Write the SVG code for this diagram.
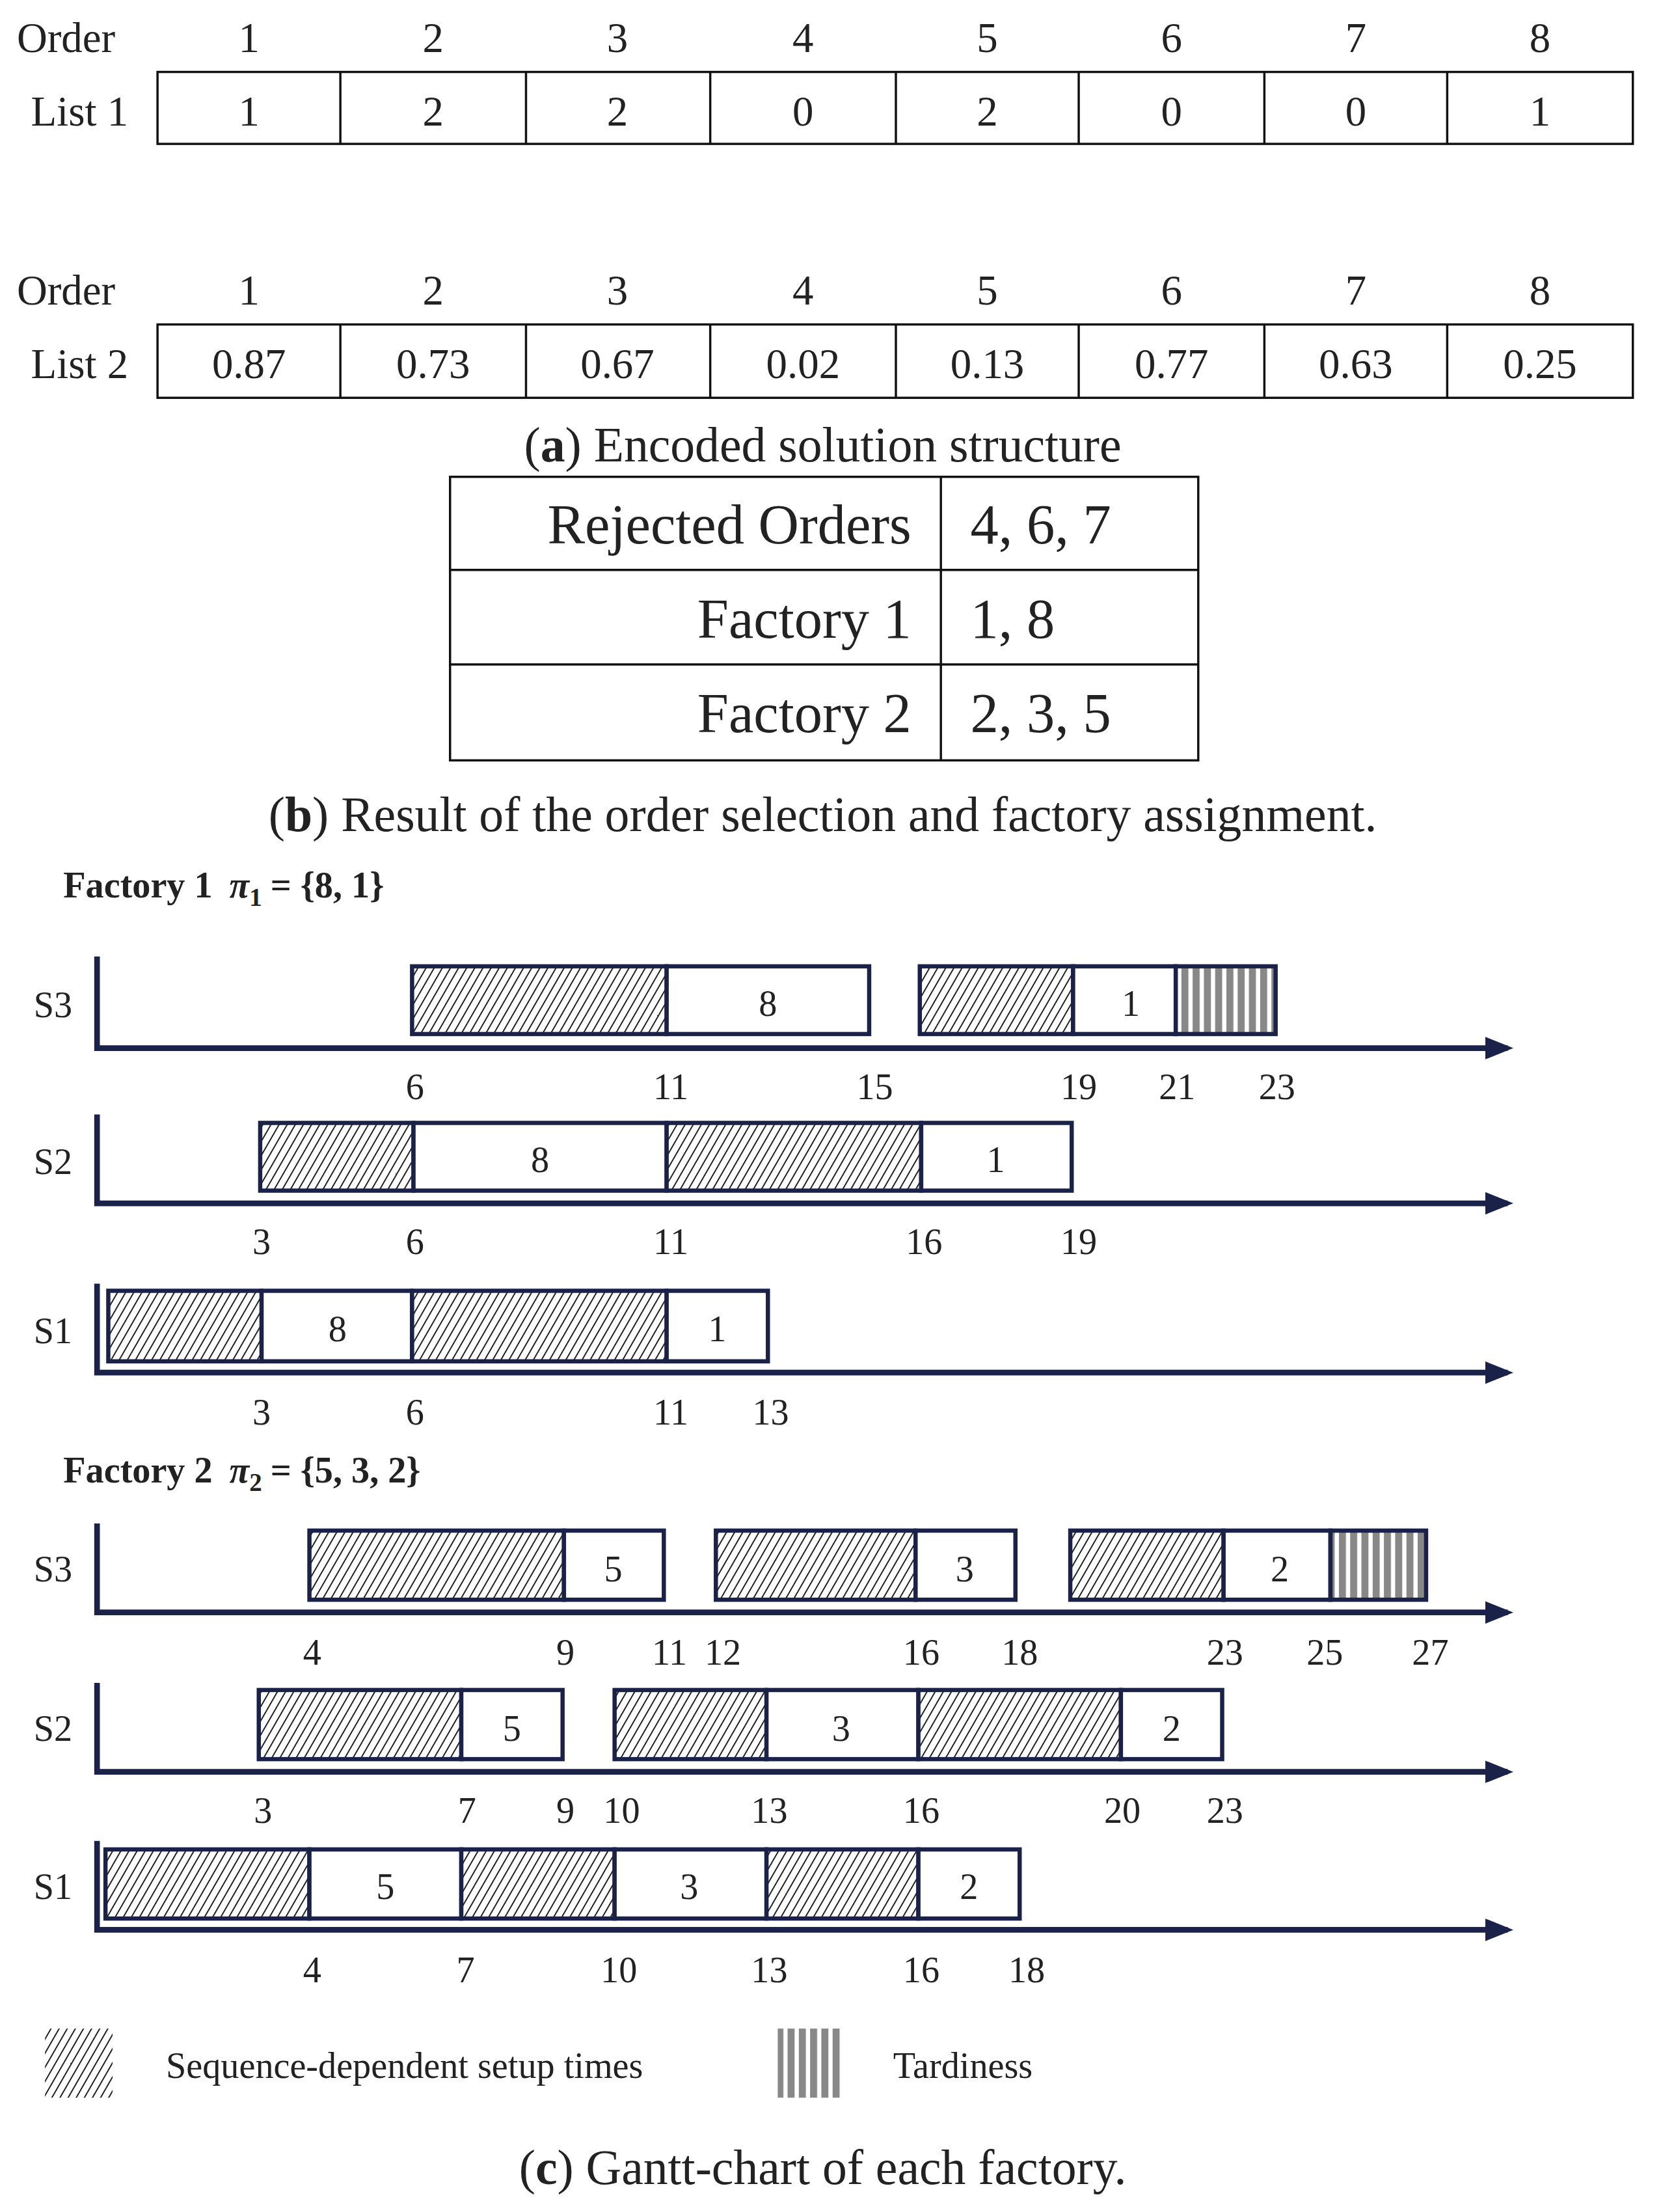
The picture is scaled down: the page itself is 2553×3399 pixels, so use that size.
<svg xmlns="http://www.w3.org/2000/svg" width="2553" height="3399" viewBox="0 0 2553 3399">
<style>
text{font-family:"Liberation Serif","DejaVu Serif",serif;fill:#222}
.t{font-size:30px;text-anchor:middle}
.lab{font-size:30px}
.cap{font-size:35px;text-anchor:middle}
.big{font-size:40px}
.g{font-size:26px;text-anchor:middle}
.sl{font-size:26px}
.cell{fill:none;stroke:#111;stroke-width:1.6}
.box{fill:#fff;stroke:#1a2249;stroke-width:3}
.hb{fill:url(#hatch);stroke:#1a2249;stroke-width:3}
.tb{fill:url(#tard);stroke:#1a2249;stroke-width:3}
.ax{stroke:#1a2249;stroke-width:4;fill:none}
.hd{font-size:26px;font-weight:bold}
</style>
<defs>
<pattern id="hatch" patternUnits="userSpaceOnUse" width="5" height="5" patternTransform="rotate(30)">
<rect width="5" height="5" fill="#fff"/><line x1="0" y1="0" x2="0" y2="5" stroke="#111" stroke-width="1.7"/>
</pattern>
<pattern id="tard" patternUnits="userSpaceOnUse" width="8" height="8">
<rect width="8" height="8" fill="#fff"/><rect width="5" height="8" fill="#888"/>
</pattern>
<marker id="arr" markerWidth="5" markerHeight="4" refX="4" refY="2" orient="auto" markerUnits="strokeWidth"><path d="M0,0 L5,2 L0,4 z" fill="#1a2249"/></marker>
</defs>
<g transform="scale(2.1617 2.1677)">
<g id="list1">
<text class="lab" x="12" y="37">Order</text>
<text class="lab" x="22" y="89">List 1</text>
<g class="t"><text x="177" y="37">1</text><text x="308" y="37">2</text><text x="439" y="37">3</text><text x="571" y="37">4</text><text x="702" y="37">5</text><text x="833" y="37">6</text><text x="964" y="37">7</text><text x="1095" y="37">8</text>
<text x="177" y="89">1</text><text x="308" y="89">2</text><text x="439" y="89">2</text><text x="571" y="89">0</text><text x="702" y="89">2</text><text x="833" y="89">0</text><text x="964" y="89">0</text><text x="1095" y="89">1</text></g>
<rect class="cell" x="112" y="51" width="1049" height="51"/>
<path class="cell" d="M242,51V102M374,51V102M505,51V102M637,51V102M767,51V102M899,51V102M1029,51V102"/>
</g>
<g id="list2">
<text class="lab" x="12" y="216">Order</text>
<text class="lab" x="22" y="268">List 2</text>
<g class="t"><text x="177" y="216">1</text><text x="308" y="216">2</text><text x="439" y="216">3</text><text x="571" y="216">4</text><text x="702" y="216">5</text><text x="833" y="216">6</text><text x="964" y="216">7</text><text x="1095" y="216">8</text>
<text x="177" y="268">0.87</text><text x="308" y="268">0.73</text><text x="439" y="268">0.67</text><text x="571" y="268">0.02</text><text x="702" y="268">0.13</text><text x="833" y="268">0.77</text><text x="964" y="268">0.63</text><text x="1095" y="268">0.25</text></g>
<rect class="cell" x="112" y="230" width="1049" height="52"/>
<path class="cell" d="M242,230V282M374,230V282M505,230V282M637,230V282M767,230V282M899,230V282M1029,230V282"/>
</g>
<text class="cap" x="585" y="327">(<tspan font-weight="bold">a</tspan>) Encoded solution structure</text>
<g id="tableB">
<rect class="cell" x="320" y="338" width="532" height="201"/>
<path class="cell" d="M320,404H852M320,471H852M669,338V539"/>
<g class="big" text-anchor="end"><text x="648" y="385">Rejected Orders</text><text x="648" y="452">Factory 1</text><text x="648" y="519">Factory 2</text></g>
<g class="big"><text x="690" y="385">4, 6, 7</text><text x="690" y="452">1, 8</text><text x="690" y="519">2, 3, 5</text></g>
</g>
<text class="cap" x="585" y="589">(<tspan font-weight="bold">b</tspan>) Result of the order selection and factory assignment.</text>
<text class="hd" x="45" y="636">Factory 1<tspan dx="12" font-style="italic">π</tspan><tspan font-size="18" dy="6">1</tspan><tspan dy="-6" dx="6">= {8, 1}</tspan></text>
<g id="connectors">
<path class="ax" d="M69,678V745M69,743H1072" marker-end="url(#arr)"/>
<path class="ax" d="M69,790V855M69,853H1072" marker-end="url(#arr)"/>
<path class="ax" d="M69,910V975M69,973H1072" marker-end="url(#arr)"/>
<path class="ax" d="M69,1080V1145M69,1143H1072" marker-end="url(#arr)"/>
<path class="ax" d="M69,1193V1258M69,1256H1072" marker-end="url(#arr)"/>
<path class="ax" d="M69,1305V1370M69,1368H1072" marker-end="url(#arr)"/>
</g>
<g id="f1s3">
<text class="sl" x="24" y="721">S3</text>
<rect class="hb" x="293" y="685" width="181" height="48"/><rect class="box" x="474" y="685" width="144" height="48"/><text class="g" x="546" y="720">8</text>
<rect class="hb" x="654" y="685" width="109" height="48"/><rect class="box" x="763" y="685" width="73" height="48"/><rect class="tb" x="836" y="685" width="71" height="48"/><text class="g" x="804" y="720">1</text>
<g class="g"><text x="295" y="779">6</text><text x="477" y="779">11</text><text x="622" y="779">15</text><text x="767" y="779">19</text><text x="837" y="779">21</text><text x="908" y="779">23</text></g>
</g>
<g id="f1s2">
<text class="sl" x="24" y="832">S2</text>
<rect class="hb" x="185" y="796" width="109" height="48"/><rect class="box" x="294" y="796" width="180" height="48"/><text class="g" x="384" y="831">8</text>
<rect class="hb" x="474" y="796" width="181" height="48"/><rect class="box" x="655" y="796" width="107" height="48"/><text class="g" x="708" y="831">1</text>
<g class="g"><text x="186" y="889">3</text><text x="295" y="889">6</text><text x="477" y="889">11</text><text x="657" y="889">16</text><text x="767" y="889">19</text></g>
</g>
<g id="f1s1">
<text class="sl" x="24" y="952">S1</text>
<rect class="hb" x="77" y="915" width="109" height="50"/><rect class="box" x="186" y="915" width="107" height="50"/><text class="g" x="240" y="951">8</text>
<rect class="hb" x="293" y="915" width="181" height="50"/><rect class="box" x="474" y="915" width="72" height="50"/><text class="g" x="510" y="951">1</text>
<g class="g"><text x="186" y="1010">3</text><text x="295" y="1010">6</text><text x="477" y="1010">11</text><text x="548" y="1010">13</text></g>
</g>
<text class="hd" x="45" y="1051">Factory 2<tspan dx="12" font-style="italic">π</tspan><tspan font-size="18" dy="6">2</tspan><tspan dy="-6" dx="6">= {5, 3, 2}</tspan></text>
<g id="f2s3">
<text class="sl" x="24" y="1121">S3</text>
<rect class="hb" x="220" y="1085" width="181" height="49"/><rect class="box" x="401" y="1085" width="71" height="49"/><text class="g" x="436" y="1121">5</text>
<rect class="hb" x="509" y="1085" width="142" height="49"/><rect class="box" x="651" y="1085" width="71" height="49"/><text class="g" x="686" y="1121">3</text>
<rect class="hb" x="761" y="1085" width="109" height="49"/><rect class="box" x="870" y="1085" width="76" height="49"/><rect class="tb" x="946" y="1085" width="68" height="49"/><text class="g" x="910" y="1121">2</text>
<g class="g"><text x="222" y="1180">4</text><text x="402" y="1180">9</text><text x="476" y="1180">11</text><text x="514" y="1180">12</text><text x="655" y="1180">16</text><text x="725" y="1180">18</text><text x="871" y="1180">23</text><text x="942" y="1180">25</text><text x="1017" y="1180">27</text></g>
</g>
<g id="f2s2">
<text class="sl" x="24" y="1234">S2</text>
<rect class="hb" x="184" y="1198" width="144" height="49"/><rect class="box" x="328" y="1198" width="72" height="49"/><text class="g" x="364" y="1234">5</text>
<rect class="hb" x="437" y="1198" width="108" height="49"/><rect class="box" x="545" y="1198" width="108" height="49"/><text class="g" x="598" y="1234">3</text>
<rect class="hb" x="653" y="1198" width="144" height="49"/><rect class="box" x="797" y="1198" width="72" height="49"/><text class="g" x="833" y="1234">2</text>
<g class="g"><text x="187" y="1292">3</text><text x="332" y="1292">7</text><text x="402" y="1292">9</text><text x="442" y="1292">10</text><text x="547" y="1292">13</text><text x="655" y="1292">16</text><text x="798" y="1292">20</text><text x="871" y="1292">23</text></g>
</g>
<g id="f2s1">
<text class="sl" x="24" y="1346">S1</text>
<rect class="hb" x="75" y="1311" width="145" height="49"/><rect class="box" x="220" y="1311" width="108" height="49"/><text class="g" x="274" y="1346">5</text>
<rect class="hb" x="328" y="1311" width="109" height="49"/><rect class="box" x="437" y="1311" width="108" height="49"/><text class="g" x="490" y="1346">3</text>
<rect class="hb" x="545" y="1311" width="108" height="49"/><rect class="box" x="653" y="1311" width="72" height="49"/><text class="g" x="689" y="1346">2</text>
<g class="g"><text x="222" y="1405">4</text><text x="331" y="1405">7</text><text x="440" y="1405">10</text><text x="547" y="1405">13</text><text x="655" y="1405">16</text><text x="730" y="1405">18</text></g>
</g>
<g id="legend">
<rect x="32" y="1438" width="48" height="49" fill="url(#hatch)"/>
<text class="sl" x="118" y="1473">Sequence-dependent setup times</text>
<rect x="553" y="1438" width="45" height="49" fill="url(#tard)"/>
<text class="sl" x="635" y="1473">Tardiness</text>
</g>
<text class="cap" x="585" y="1548">(<tspan font-weight="bold">c</tspan>) Gantt-chart of each factory.</text>
</g>
</svg>
